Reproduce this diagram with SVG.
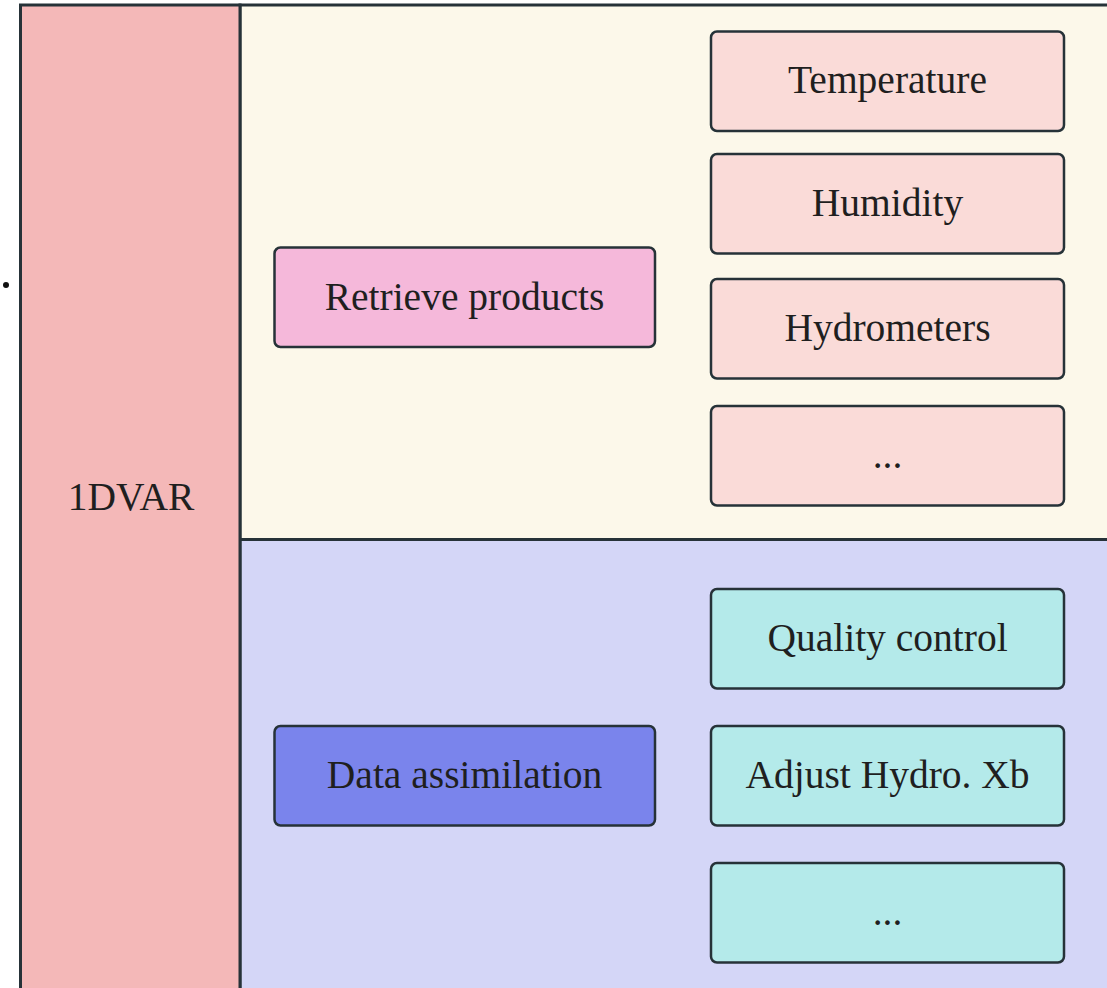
<svg xmlns="http://www.w3.org/2000/svg" width="1107" height="988" viewBox="0 0 1107 988">
  <style>
    .panel { stroke: #263238; stroke-width: 3; }
    .box { stroke: #263238; stroke-width: 2.5; }
    .label { font-family: "Liberation Serif", "Times New Roman", serif; font-size: 39.5px; fill: #1f1f1f; text-anchor: middle; }
  </style>
  <rect width="1107" height="988" fill="#ffffff"/>
  <circle cx="6" cy="285" r="3" fill="#111111"/>

  <!-- background sections -->
  <g id="section-retrieve">
    <rect class="panel" x="240" y="5" width="880" height="534.5" fill="#fcf8ea"/>
  </g>
  <g id="section-assimilation">
    <rect class="panel" x="240" y="539.5" width="880" height="470" fill="#d4d6f7"/>
  </g>
  <g id="node-1dvar">
    <rect class="panel" x="20.5" y="5" width="219.5" height="1000" fill="#f4b8b8"/>
    <text class="label" x="131" y="510">1DVAR</text>
  </g>

  <!-- retrieval branch -->
  <g id="node-retrieve-products">
    <rect class="box" x="274.5" y="247.5" width="380.5" height="99.5" rx="6" fill="#f5b8da"/>
    <text class="label" x="464.5" y="310">Retrieve products</text>
  </g>
  <g id="node-temperature">
    <rect class="box" x="711" y="31.5" width="353" height="99.5" rx="6" fill="#fadbd8"/>
    <text class="label" x="887.5" y="93">Temperature</text>
  </g>
  <g id="node-humidity">
    <rect class="box" x="711" y="154" width="353" height="99.5" rx="6" fill="#fadbd8"/>
    <text class="label" x="887.5" y="216">Humidity</text>
  </g>
  <g id="node-hydrometers">
    <rect class="box" x="711" y="279" width="353" height="99.5" rx="6" fill="#fadbd8"/>
    <text class="label" x="887.5" y="341">Hydrometers</text>
  </g>
  <g id="node-retrieve-more">
    <rect class="box" x="711" y="406" width="353" height="99.5" rx="6" fill="#fadbd8"/>
    <text class="label" x="887.5" y="468">...</text>
  </g>

  <!-- assimilation branch -->
  <g id="node-data-assimilation">
    <rect class="box" x="274.5" y="726" width="380.5" height="99.5" rx="6" fill="#7a84ec"/>
    <text class="label" x="464.5" y="788">Data assimilation</text>
  </g>
  <g id="node-quality-control">
    <rect class="box" x="711" y="589" width="353" height="99.5" rx="6" fill="#b4eaea"/>
    <text class="label" x="887.5" y="651">Quality control</text>
  </g>
  <g id="node-adjust-hydro">
    <rect class="box" x="711" y="726" width="353" height="99.5" rx="6" fill="#b4eaea"/>
    <text class="label" x="887.5" y="788">Adjust Hydro. Xb</text>
  </g>
  <g id="node-assimilation-more">
    <rect class="box" x="711" y="863" width="353" height="99.5" rx="6" fill="#b4eaea"/>
    <text class="label" x="887.5" y="925">...</text>
  </g>

  <g id="connectors"></g>
</svg>
